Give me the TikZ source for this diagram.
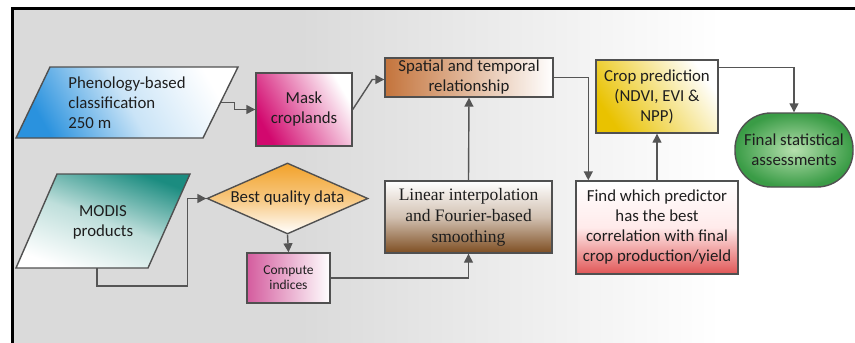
\documentclass[tikz,border=0pt]{standalone}
\usepackage{fontspec}
\setmainfont{Carlito}
\newfontfamily\timesf{Liberation Serif}
\usetikzlibrary{shapes.geometric,arrows.meta,calc}
\definecolor{edge}{HTML}{505050}
\definecolor{arrc}{HTML}{555555}
\definecolor{txt}{HTML}{1E1E1E}
\definecolor{bgg}{HTML}{DADADA}
\definecolor{cblue}{HTML}{2A92DE}
\definecolor{cmag}{HTML}{D2086E}
\definecolor{cbrown}{HTML}{C4743C}
\definecolor{cyel}{HTML}{E9C200}
\definecolor{cgreen}{HTML}{3A9C46}
\definecolor{cgreenl}{HTML}{B6E0AE}
\definecolor{cteal}{HTML}{1B8C80}
\definecolor{corange}{HTML}{F2A22A}
\definecolor{cpink}{HTML}{D45C9E}
\definecolor{cdbrown}{HTML}{7E4E22}
\definecolor{cred}{HTML}{E05656}
\tikzset{
  box/.style={draw=edge, line width=1.4pt, text=txt, align=center, inner sep=2pt,
    font=\fontsize{16.8}{20}\selectfont},
  shapeline/.style={draw=edge, line width=1.4pt},
  label16/.style={text=txt, align=center, font=\fontsize{16.8}{20}\selectfont},
  arr/.style={draw=arrc, line width=1.4pt, -{Triangle[length=9pt,width=9pt]}},
}
\begin{document}
\begin{tikzpicture}[x=1pt,y=-1pt]
\useasboundingbox (0,0) rectangle (855,343);
% background
\fill[white] (0,0) rectangle (855,343);
\fill[bgg] (12,8) rectangle (300,343);
\shade[left color=bgg, right color=white] (299.5,8) rectangle (720,343);
\draw[black, line width=3pt] (12,345) -- (12,8) -- (858,8);

% parallelograms
\path[shapeline, top color=white, bottom color=cblue, middle color=cblue!25, shading angle=-60]
  (50,67) -- (238,67) -- (203,138) -- (16,138) -- cycle;
\node[label16, align=left] (phen) at (127,102.5) {Phenology-based\\classification\\250 m};
\coordinate (phenE) at (220.5,102.5);
\path[shapeline, top color=cteal, bottom color=white, middle color=cteal!28, shading angle=-20]
  (57,174) -- (190,174) -- (148,268) -- (16,268) -- cycle;
\node[label16] (modis) at (103,222) {MODIS\\products};
\coordinate (modisS) at (97,268);

% boxes
\node[box, minimum width=96, minimum height=73,
  top color=white, bottom color=cmag, shading angle=-60]
  (mask) at (304,109.5) {Mask\\croplands};
\node[box, minimum width=168, minimum height=39,
  left color=cbrown, right color=white]
  (spatial) at (469,77.5) {Spatial and temporal\\relationship};
\node[box, minimum width=122, minimum height=73,
  top color=white, bottom color=cyel, shading angle=-55]
  (crop) at (657,96.5) {Crop prediction\\(NDVI, EVI \&\\NPP)};
\node[box, rectangle, rounded corners=36pt, minimum width=118, minimum height=74,
  inner color=cgreenl, outer color=cgreen]
  (final) at (794,150) {Final statistical\\assessments};
\node[box, minimum width=162, minimum height=93,
  top color=white, bottom color=cred, middle color=red!8]
  (find) at (657,227.5) {Find which predictor\\has the best\\correlation with final\\crop production/yield};
\node[box, minimum width=167, minimum height=72, font=\timesf\fontsize{17.5}{21}\selectfont,
  top color=white, bottom color=cdbrown, middle color=cdbrown!35]
  (linear) at (468.5,217) {Linear interpolation\\and Fourier-based\\smoothing};
\node[box, diamond, aspect=2.27, minimum width=161, minimum height=71, inner sep=0pt,
  top color=corange, bottom color=white, middle color=corange!60]
  (best) at (287.5,198.5) {};
\node[label16] (besttxt) at (best.center) {Best quality data};
\node[box, minimum width=83, minimum height=50, font=\fontsize{13.5}{15}\selectfont,
  left color=cpink, right color=white]
  (compute) at (288.5,278) {Compute\\indices};

% connectors
\draw[arr] (phenE) -- ++(14,0) |- (mask.west);
\draw[arr] (mask.east) -- ($(spatial.west)+(-12,2)$) -- ($(spatial.west)+(0,2)$);
\draw[arr] (spatial.east) -| ($(find.north west)+(13,0)$);
\draw[arr] (find.north) -- (crop.south);
\draw[arr] ($(crop.north east)+(0,8)$) -| (final.north);
\draw[arr] (linear.north) -- (spatial.south);
\draw[arr] (modisS) -- ++(0,18) -| ($(best.west)+(-19,0)$) -- (best.west);
\draw[arr] (best.south) -- (compute.north);
\draw[arr] (compute.east) -| (linear.south);
\end{tikzpicture}
\end{document}
